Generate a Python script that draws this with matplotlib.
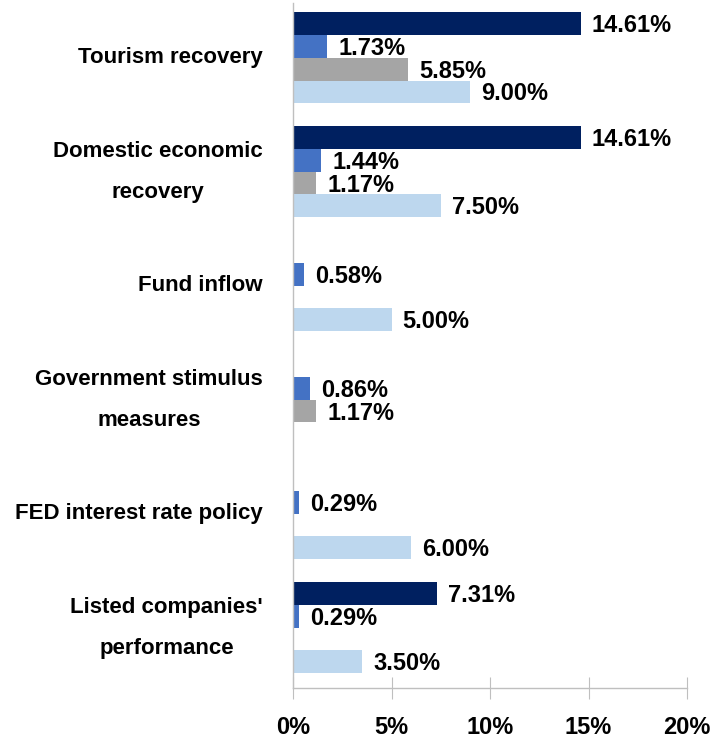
import matplotlib
matplotlib.use("Agg")
import matplotlib.pyplot as plt
import numpy as np

categories = ["Tourism recovery", "Domestic economic\nrecovery", "Fund inflow",
              "Government stimulus\nmeasures", "FED interest rate policy",
              "Listed companies'\nperformance"]
series_navy = [14.61, 14.61, None, None, None, 7.31]
series_blue = [1.73, 1.44, 0.58, 0.86, 0.29, 0.29]
series_gray = [5.85, 1.17, None, 1.17, None, None]
series_light = [9.00, 7.50, 5.00, None, 6.00, 3.50]
xticks = [0, 5, 10, 15, 20]
xtick_labels = ["0%", "5%", "10%", "15%", "20%"]

series = [series_navy, series_blue, series_gray, series_light]
colors = ["#002060", "#4472C4", "#A5A5A5", "#BDD7EE"]

plt.rcParams['font.family'] = ['Liberation Sans', 'DejaVu Sans']

fig = plt.figure(figsize=(7.15, 7.4), dpi=100)
ax = fig.add_axes([293/715, 1-688/740, 394/715, 685/740])

w = 0.2
y = np.arange(len(categories))
for i, (vals, c) in enumerate(zip(series, colors)):
    offs = (i - 1.5) * w
    for j, v in enumerate(vals):
        if v is None:
            continue
        ax.barh(y[j] + offs, v, height=w, color=c, edgecolor='none')
        ax.annotate(f"{v:.2f}%", xy=(v, y[j] + offs), xytext=(11, -2),
                    textcoords='offset pixels', va='center', ha='left',
                    fontsize=17, fontweight='bold', color='black')

ax.set_xlim(0, 20)
ax.set_ylim(5.53, -0.48)
ax.set_xticks(xticks)
ax.set_xticklabels(xtick_labels, fontsize=17, fontweight='bold')
ax.tick_params(axis='x', direction='inout', length=16, color='#BFBFBF', pad=12)
ax.set_yticks([])
for j, cat in enumerate(categories):
    ax.text(-30/394*20, y[j], cat, ha='right', va='center', multialignment='center',
            fontsize=16, fontweight='bold', linespacing=2.25)

for s in ['top', 'right']:
    ax.spines[s].set_visible(False)
for s in ['left', 'bottom']:
    ax.spines[s].set_color('#BFBFBF')
    ax.spines[s].set_linewidth(1)

fig.savefig("out.png", dpi=100)
